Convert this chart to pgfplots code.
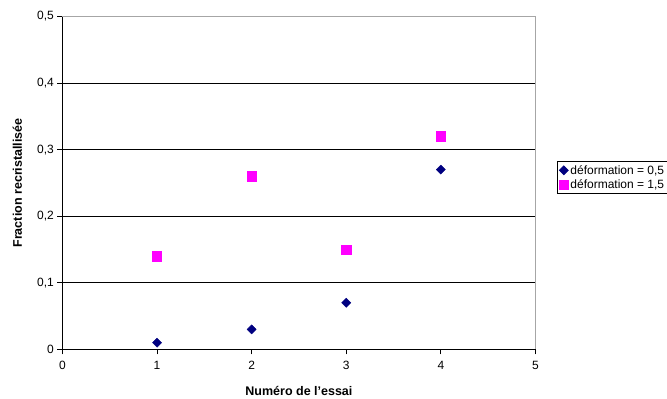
\documentclass[border=0pt]{standalone}
\usepackage{pgfplots}
\pgfplotsset{compat=1.18}
\usepackage{fontspec}
\setmainfont{Liberation Sans}
\definecolor{navyc}{RGB}{0,0,128}
\definecolor{magc}{RGB}{255,0,255}
\begin{document}
\begin{tikzpicture}[x=1pt,y=1pt]
\begin{axis}[
  at={(66,74.5)}, anchor=origin,
  scale only axis, width=473pt, height=333pt,
  xmin=0, xmax=5, ymin=0, ymax=0.5,
  xtick={0,1,2,3,4,5}, ytick={0,0.1,0.2,0.3,0.4,0.5},
  axis x line*=bottom, axis y line*=left,
  axis line style={black, line width=0.8pt, -},
  tick align=outside, major tick length=5pt,
  tick style={black, line width=0.8pt},
  ymajorgrids, grid style={black, line width=0.6pt},
  /pgf/number format/use comma,
  /pgf/number format/assume math mode=true,
  ticklabel style={font=\fontsize{12}{14}\selectfont},
  xticklabel style={yshift=-3pt},
  yticklabel style={/pgf/number format/fixed, /pgf/number format/precision=1},
  xlabel={\textbf{Numéro de l'essai}},
  ylabel={\textbf{Fraction recristallisée}},
  label style={font=\fontsize{12.5}{14}\selectfont},
  xlabel style={at={(axis description cs:0.5,0)}, anchor=north, yshift=-33pt},
  ylabel style={at={(axis description cs:0,0.5)}, anchor=south, yshift=37pt},
  legend style={at={(axis description cs:1.0465,0.5646)}, anchor=north west,
    draw=black, line width=0.6pt, font=\fontsize{12}{14}\selectfont,
    inner sep=1.5pt, row sep=0pt, legend cell align=left},
  legend image code/.code={\draw[#1] (0.3em,0) -- plot coordinates {(0.3em,0)};},
  clip=false,
]
\draw[gray!70, line width=0.8pt] (rel axis cs:0,1) -- (rel axis cs:1,1) -- (rel axis cs:1,0);
\addplot[only marks, mark=square*, mark size=3.2pt, color=navyc, mark options={fill=navyc, draw=navyc, rotate=45}]
  coordinates {(1,0.01) (2,0.03) (3,0.07) (4,0.27)};
\addlegendentry{déformation = 0,5}
\addplot[only marks, mark=square*, mark size=4.6pt, color=magc, mark options={fill=magc, draw=magc}]
  coordinates {(1,0.14) (2,0.26) (3,0.15) (4,0.32)};
\addlegendentry{déformation = 1,5}
\end{axis}
\pgfresetboundingbox
\path[use as bounding box] (0,0) rectangle (667,399);
\end{tikzpicture}
\end{document}
